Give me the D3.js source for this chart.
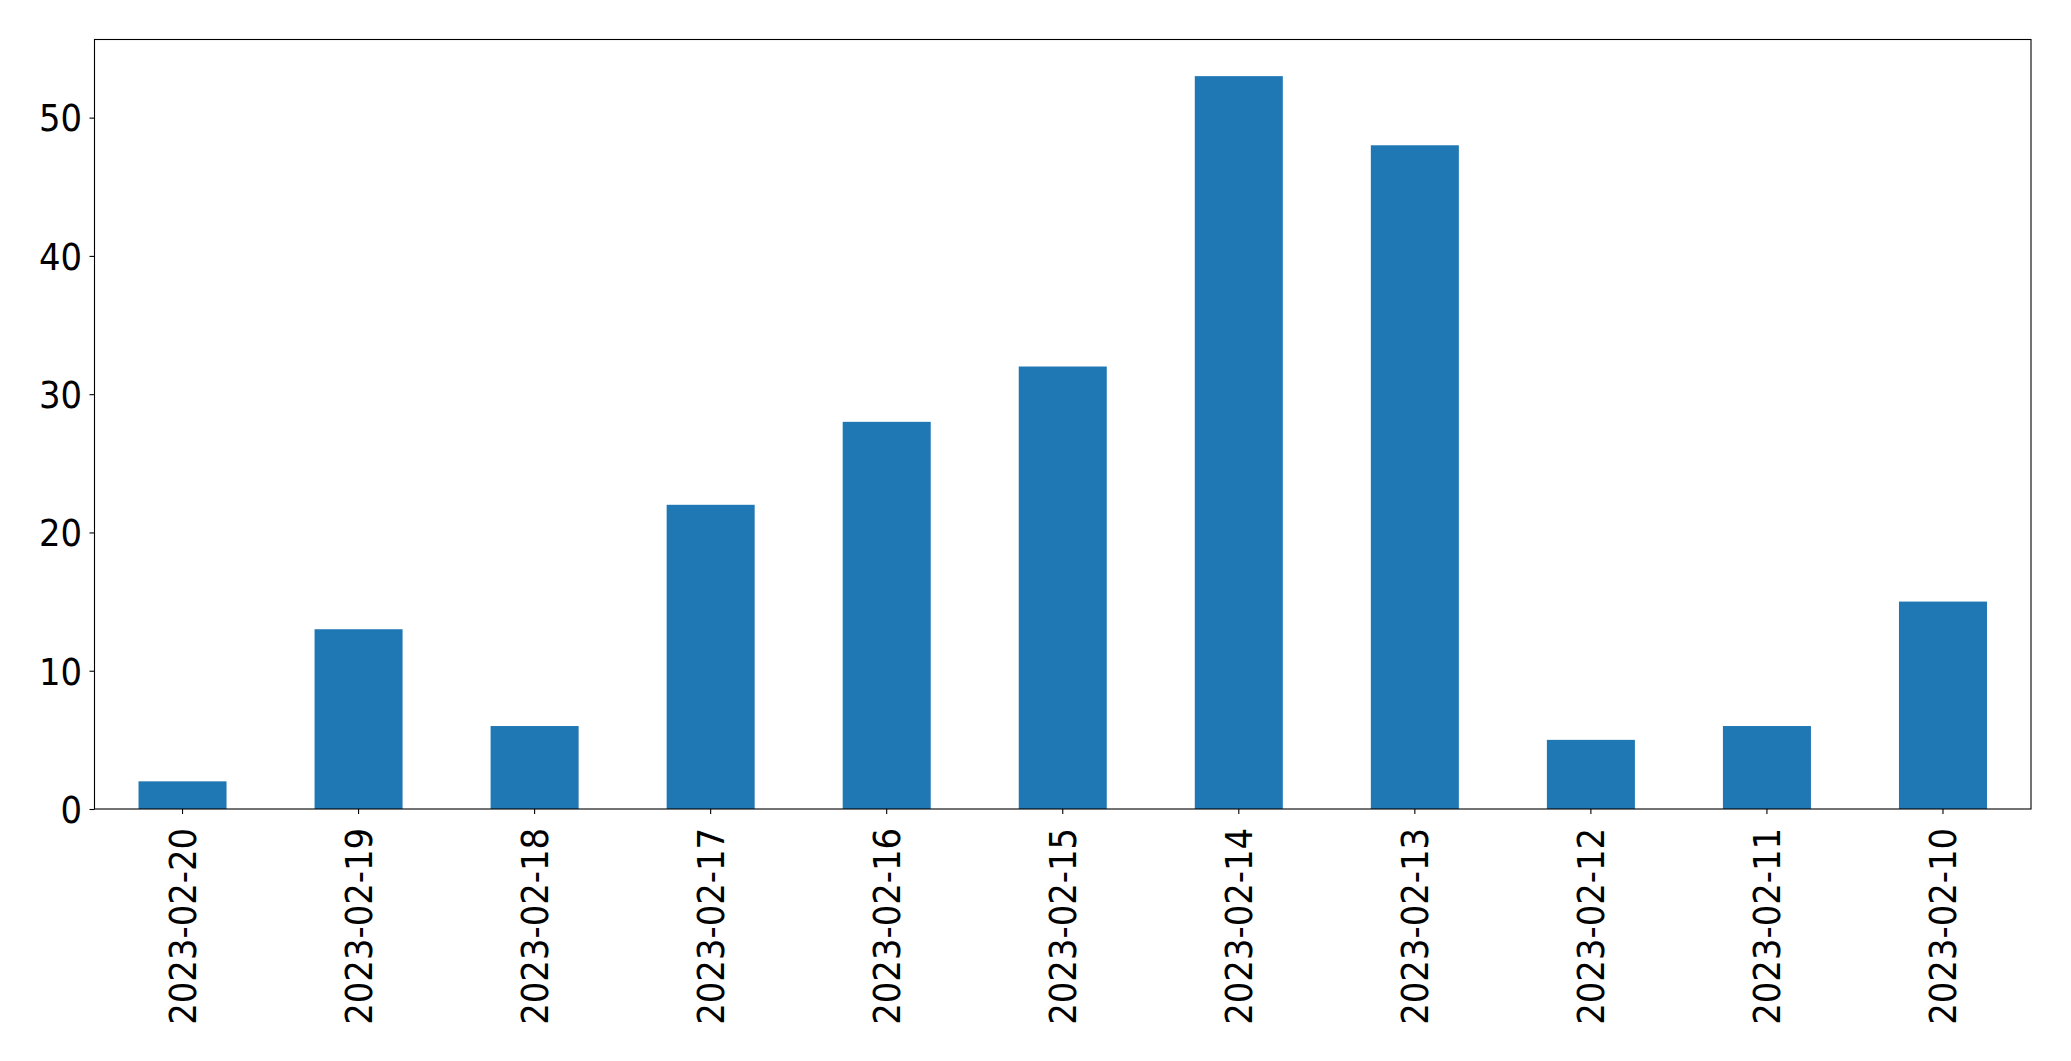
<!DOCTYPE html>
<html>
<head>
<meta charset="utf-8">
<script src="https://cdn.jsdelivr.net/npm/d3@7"></script>
<style>
  html, body { margin: 0; padding: 0; background: #fff; }
  svg { display: block; }
</style>
</head>
<body>
<svg id="chart" width="2071" height="1061"></svg>
<script>
const categories = ["2023-02-20","2023-02-19","2023-02-18","2023-02-17","2023-02-16","2023-02-15","2023-02-14","2023-02-13","2023-02-12","2023-02-11","2023-02-10"];
const values = [2, 13, 6, 22, 28, 32, 53, 48, 5, 6, 15];
const yTicks = [0, 10, 20, 30, 40, 50];

const W = 2071, H = 1061;
const margin = {left: 94.5, right: W - 2031, top: 39.5, bottom: H - 809};
const svg = d3.select("#chart");
const innerW = W - margin.left - margin.right;
const innerH = H - margin.top - margin.bottom;
const g = svg.append("g").attr("transform", `translate(${margin.left},${margin.top})`);

const x = d3.scaleBand().domain(categories).range([0, innerW]).paddingInner(0.5).paddingOuter(0.25);
const y = d3.scaleLinear().domain([0, d3.max(values) * 1.05]).range([innerH, 0]);

g.selectAll("rect.bar").data(values).join("rect")
  .attr("class", "bar")
  .attr("x", (d, i) => x(categories[i]))
  .attr("width", x.bandwidth())
  .attr("y", d => y(d))
  .attr("height", d => innerH - y(d))
  .attr("fill", "#1f77b4");

const font = "'DejaVu Sans', sans-serif";
const fs = 37, sx = 0.915;

const yAxis = g.append("g").call(d3.axisLeft(y).tickValues(yTicks).tickSize(5).tickPadding(7).tickFormat(d3.format("d")));
yAxis.select(".domain").remove();
yAxis.selectAll("line").attr("stroke", "#000").attr("stroke-width", 1.1);
yAxis.selectAll("text").attr("font-family", font).attr("font-size", fs).attr("fill", "#000")
  .attr("dy", "0.36em").attr("x", -12.5 / sx).attr("transform", `scale(${sx},1)`);

const xAxis = g.append("g").attr("transform", `translate(0,${innerH})`)
  .call(d3.axisBottom(x).tickSize(5).tickPadding(0));
xAxis.select(".domain").remove();
xAxis.selectAll("line").attr("stroke", "#000").attr("stroke-width", 1.1);
xAxis.selectAll("text")
  .attr("font-family", font).attr("font-size", fs).attr("fill", "#000")
  .attr("text-anchor", "end")
  .attr("transform", `translate(0,19) rotate(-90) scale(${sx},1)`)
  .attr("x", 0).attr("y", 0).attr("dy", "0.36em");

g.append("rect").attr("x", 0).attr("y", 0).attr("width", innerW).attr("height", innerH)
  .attr("fill", "none").attr("stroke", "#000").attr("stroke-width", 1.1);
</script>
</body>
</html>
